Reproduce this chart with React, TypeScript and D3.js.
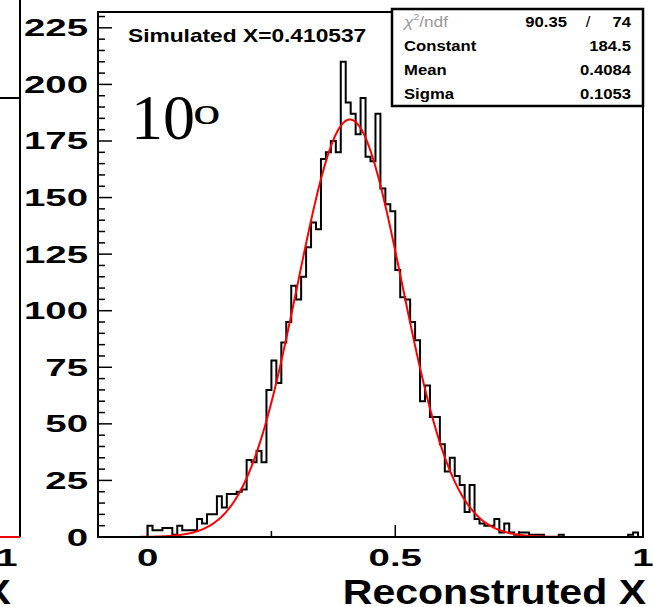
import React from "react";
import * as d3 from "d3";

// ---------- data ----------
const binStart = 0;
const binWidth = 0.01;
const counts = [
  5, 3, 3, 4, 4, 1, 5, 3, 3, 3,
  8, 6, 10, 10, 18, 13, 19, 19, 20, 21,
  34, 33, 38, 33, 65, 78, 68, 86, 95, 111,
  105, 115, 128, 139, 136, 167, 170, 175, 170, 210,
  192, 187, 178, 194, 168, 166, 187, 154, 147, 144,
  118, 106, 105, 95, 87, 60, 67, 53, 53, 41,
  29, 35, 27, 23, 11, 23, 8, 6, 5, 5,
  8, 2, 6, 2, 1, 2, 2, 1, 1, 1,
  0, 0, 0, 1, 0, 0, 0, 0, 0, 0,
  0, 0, 0, 0, 0, 0, 0, 1, 2, 0,
];
const fitConstant = 184.5;
const fitMean = 0.4084;
const fitSigma = 0.1053;
const statNames = ["Constant", "Mean", "Sigma"];
const statValues = ["184.5", "0.4084", "0.1053"];
const chi2Value = "90.35";
const ndfValue = "74";
const yTicks = [0, 25, 50, 75, 100, 125, 150, 175, 200, 225];
const xTickValues = [0, 0.5, 1];
const xTickLabels = ["0", "0.5", "1"];
const xMinorTicks = [0.25, 0.75];
const xDomain = [-0.1, 1.0];
const yDomain = [0, 232];
const titleText = "Simulated X=0.410537";
const xAxisTitle = "Reconstruted X";

// ---------- layout ----------
const W = 653, H = 607;
const L = 98, R = 643, T = 12, B = 537;
const SANS = "'Liberation Sans', Arial, Helvetica, sans-serif";
const SERIF = "'Liberation Serif', 'Times New Roman', serif";
const LBL = 24, LSX = 1.6;

function Txt(p: any) {
  const { x, y, anchor = "start", size, sx = 1, weight = "bold", family = SANS, fill = "#000", children } = p;
  return (
    <text transform={`translate(${x},${y}) scale(${sx},1)`} textAnchor={anchor}
      fontSize={size} fontWeight={weight} fontFamily={family} fill={fill}>{children}</text>
  );
}

export default function App() {
  const x = d3.scaleLinear().domain(xDomain).range([L, R]);
  const y = d3.scaleLinear().domain(yDomain).range([B, T]);

  // histogram outline
  let d = `M${x(binStart)},${y(0)}`;
  counts.forEach((c, i) => {
    const x1 = x(binStart + (i + 1) * binWidth);
    d += `V${y(c)}H${x1}`;
  });
  d += `V${y(0)}`;

  // fit curve
  const xs = d3.range(xDomain[0], xDomain[1] + 1e-9, 0.002);
  const fit = d3.line<number>()
    .x((v) => x(v))
    .y((v) => y(fitConstant * Math.exp(-0.5 * ((v - fitMean) / fitSigma) ** 2)))(xs) as string;

  const yMinor = d3.range(0, yDomain[1] + 0.01, 5).filter((v) => v % 25 !== 0);

  return (
    <svg width={W} height={H} style={{ position: "absolute", left: 0, top: 0, background: "#fff" }}>
      <rect x={0} y={0} width={W} height={H} fill="#fff" />
      {/* neighbour panel fragments */}
      <line x1={20} y1={0} x2={20} y2={B} stroke="#000" strokeWidth={2} />
      <line x1={0} y1={98} x2={20} y2={98} stroke="#000" strokeWidth={2} />
      <line x1={0} y1={B} x2={20} y2={B} stroke="#e00" strokeWidth={2} />
      <Txt x={7} y={566} anchor="middle" size={LBL} sx={LSX}>1</Txt>
      <Txt x={11} y={604} anchor="end" size={36} sx={1.14}>X</Txt>

      <defs>
        <clipPath id="frame"><rect x={L} y={T} width={R - L} height={B - T} /></clipPath>
      </defs>

      {/* y ticks */}
      {yTicks.map((v) => (
        <line key={"ym" + v} x1={L} x2={L + 14} y1={y(v)} y2={y(v)} stroke="#000" strokeWidth={1.5} />
      ))}
      {yMinor.map((v) => (
        <line key={"yn" + v} x1={L} x2={L + 7} y1={y(v)} y2={y(v)} stroke="#000" strokeWidth={1.5} />
      ))}
      {yTicks.map((v) => (
        <Txt key={"yl" + v} x={88} y={y(v) + 8.5} anchor="end" size={LBL} sx={LSX}>{String(v)}</Txt>
      ))}

      {/* x ticks */}
      {xTickValues.map((v) => (
        <line key={"xm" + v} x1={x(v)} x2={x(v)} y1={B} y2={B - 12} stroke="#000" strokeWidth={1.5} />
      ))}
      {xMinorTicks.map((v) => (
        <line key={"xn" + v} x1={x(v)} x2={x(v)} y1={B} y2={B - 6} stroke="#000" strokeWidth={1.5} />
      ))}
      {xTickValues.map((v, i) => (
        <Txt key={"xl" + v} x={x(v)} y={566} anchor="middle" size={LBL} sx={LSX}>{xTickLabels[i]}</Txt>
      ))}
      <Txt x={646} y={604} anchor="end" size={36} sx={1.14}>{xAxisTitle}</Txt>

      {/* histogram + fit */}
      <g clipPath="url(#frame)">
        <path d={d} fill="none" stroke="#000" strokeWidth={2} />
        <path d={fit} fill="none" stroke="#f00" strokeWidth={2} />
      </g>

      {/* frame */}
      <rect x={L} y={T} width={R - L} height={B - T} fill="none" stroke="#000" strokeWidth={2} />

      {/* title text */}
      <Txt x={128} y={42} size={18.5} sx={1.23}>{titleText}</Txt>
      <Txt x={131} y={139} size={64} weight="normal" family={SERIF}>10</Txt>
      <Txt x={193} y={124} size={38} weight="normal" family={SERIF} sx={1.45}>o</Txt>

      {/* stats box */}
      <rect x={392} y={9} width={251} height={97} fill="#fff" stroke="#000" strokeWidth={2.5} />
      <text transform="translate(404,27) scale(1.15,1)" fontFamily={SANS} fontSize={15} fill="#999">
        <tspan fontStyle="italic">χ</tspan><tspan fontSize={9} dy={-7}>2</tspan><tspan dy={7}>/ndf</tspan>
      </text>
      <Txt x={567} y={27} anchor="end" size={14.5} sx={1.15}>{chi2Value}</Txt>
      <Txt x={588} y={27} anchor="middle" size={14.5} sx={1.15} weight="normal">/</Txt>
      <Txt x={631} y={27} anchor="end" size={14.5} sx={1.15}>{ndfValue}</Txt>
      {statNames.map((n, i) => (
        <g key={n}>
          <Txt x={404} y={51 + i * 24} size={14.5} sx={1.15}>{n}</Txt>
          <Txt x={631} y={51 + i * 24} anchor="end" size={14.5} sx={1.15}>{statValues[i]}</Txt>
        </g>
      ))}
    </svg>
  );
}
